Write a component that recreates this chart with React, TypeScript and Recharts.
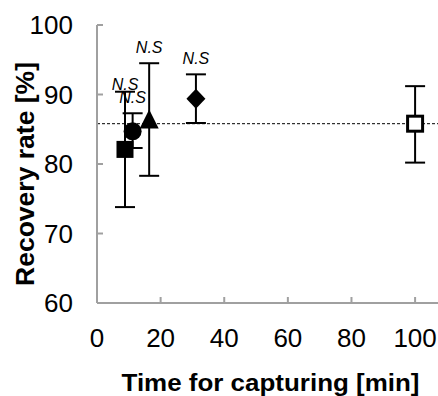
import {
  ScatterChart,
  Scatter,
  XAxis,
  YAxis,
  ErrorBar,
  ReferenceLine,
  ReferenceDot,
  Label,
} from "recharts";

// capture time [min]
const times = [8.8, 11.2, 16.4, 31.1, 100];
// mean recovery rate [%]
const recovery = [82.1, 84.7, 86.4, 89.4, 85.8];
const errLow = [8.3, 2.4, 8.1, 3.5, 5.6];
const errHigh = [8.3, 2.6, 8.1, 3.5, 5.4];
const markers = ["square", "circle", "triangle", "diamond", "openSquare"];
const significance = ["N.S", "N.S", "N.S", "N.S", ""];
const controlMean = 85.8;

const xTicks = [0, 20, 40, 60, 80, 100];
const yTicks = [60, 70, 80, 90, 100];

const FONT = "'Liberation Sans', Arial, sans-serif";
const AXIS = "#a0a0a0";

const Marker = (props: any) => {
  const { cx, cy, kind } = props;
  if (cx == null || cy == null) return null;
  switch (kind) {
    case "square":
      return <rect x={cx - 8.5} y={cy - 8.5} width={17} height={17} fill="#000" />;
    case "circle":
      return <circle cx={cx} cy={cy} r={9} fill="#000" />;
    case "triangle":
      return (
        <polygon
          points={`${cx},${cy - 10} ${cx + 9.5},${cy + 9} ${cx - 9.5},${cy + 9}`}
          fill="#000"
        />
      );
    case "diamond":
      return (
        <polygon
          points={`${cx},${cy - 10} ${cx + 9.5},${cy} ${cx},${cy + 10} ${cx - 9.5},${cy}`}
          fill="#000"
        />
      );
    default:
      return (
        <rect
          x={cx - 7.5}
          y={cy - 7.5}
          width={15}
          height={15}
          fill="#fff"
          stroke="#000"
          strokeWidth={3}
        />
      );
  }
};

const App = () => {
  const series = times.map((t, i) => [
    { time: t, rate: recovery[i], err: [errLow[i], errHigh[i]] },
  ]);

  return (
    <div
      style={{
        position: "fixed",
        left: 0,
        top: 0,
        width: 438,
        height: 396,
        overflow: "hidden",
        background: "#fff",
      }}
    >
      <ScatterChart
        width={438}
        height={396}
        margin={{ top: 25, right: 0, bottom: 0, left: 0 }}
        style={{ fontFamily: FONT }}
      >
        <XAxis
          type="number"
          dataKey="time"
          domain={[0, 107.2]}
          ticks={xTicks}
          height={93}
          stroke={AXIS}
          strokeWidth={2}
          tickSize={-6}
          tickMargin={32}
          tick={{ fill: "#000", fontSize: 26 }}
          allowDataOverflow
        >
          <Label
            content={(p: any) => {
              const vb = p.viewBox;
              return (
                <text
                  x={vb.x + 24.5}
                  y={vb.y + 88}
                  textLength={298}
                  lengthAdjust="spacingAndGlyphs"
                  fontSize={23}
                  fontWeight="bold"
                  fill="#000"
                >
                  Time for capturing [min]
                </text>
              );
            }}
          />
        </XAxis>
        <YAxis
          type="number"
          dataKey="rate"
          domain={[60, 100]}
          ticks={yTicks}
          width={97}
          stroke={AXIS}
          strokeWidth={2}
          tickSize={-6}
          tickMargin={30}
          tick={{ fill: "#000", fontSize: 26 }}
        >
          <Label
            content={(p: any) => {
              const vb = p.viewBox;
              const x = vb.x + 34;
              const y = vb.y + vb.height / 2 + 10;
              return (
                <text
                  x={x}
                  y={y}
                  transform={`rotate(-90 ${x} ${y})`}
                  textAnchor="middle"
                  textLength={224}
                  lengthAdjust="spacingAndGlyphs"
                  fontSize={25}
                  fontWeight="bold"
                  fill="#000"
                >
                  Recovery rate [%]
                </text>
              );
            }}
          />
        </YAxis>
        <ReferenceLine
          y={controlMean}
          stroke="#000"
          strokeWidth={1}
          strokeDasharray="3 2"
        />
        {series.map((d, i) => (
          <Scatter
            key={markers[i]}
            name={markers[i]}
            data={d}
            isAnimationActive={false}
            shape={(p: any) => <Marker {...p} kind={markers[i]} />}
          >
            <ErrorBar
              dataKey="err"
              direction="y"
              width={10}
              stroke="#000"
              strokeWidth={2}
            />
          </Scatter>
        ))}
        {significance.map((s, i) =>
          s ? (
            <ReferenceDot
              key={`ns-${i}`}
              x={times[i]}
              y={recovery[i] + errHigh[i]}
              r={0}
              stroke="none"
              fill="none"
              label={{
                value: s,
                position: "top",
                offset: i === 0 ? 2 : 10,
                fontSize: 16,
                fontStyle: "italic",
                fill: "#000",
              }}
            />
          ) : null
        )}
      </ScatterChart>
    </div>
  );
};

export default App;
